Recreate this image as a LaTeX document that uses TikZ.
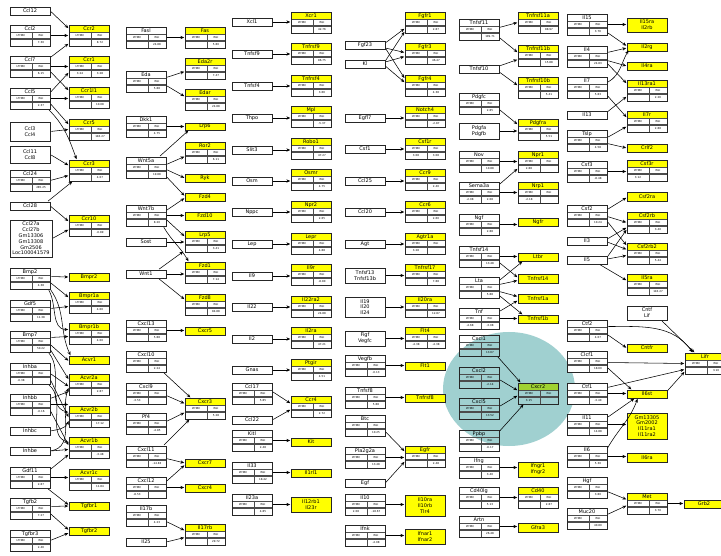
\documentclass[tikz,border=0pt]{standalone}
\usepackage{fontspec}
\setmainfont{DejaVu Sans}
\usetikzlibrary{arrows.meta}
\definecolor{yel}{RGB}{255,255,0}
\definecolor{rb}{RGB}{192,0,0}
\definecolor{bb}{RGB}{0,0,192}
\definecolor{gb}{RGB}{150,150,150}
\definecolor{teal0}{RGB}{160,208,208}
\definecolor{ygreen}{RGB}{160,210,50}
\def\tbody{white}
\newcommand\mytb[9]{%
 \path[fill=\tbody] (#2,#3) rectangle (#2+40,#3+21);
 \path[fill=#5] (#2,#3) rectangle (#2+40,#3+7);
 \path[fill=#6] (#2,#3+13) rectangle (#2+22,#3+14.6);
 \path[fill=#7] (#2+22,#3+13) rectangle (#2+40,#3+14.6);
 \draw[inl] (#2,#3+7) -- (#2+40,#3+7) (#2,#3+13) -- (#2+40,#3+13) (#2,#3+14.6) -- (#2+40,#3+14.6) (#2+22,#3+7) -- (#2+22,#3+21);
 \node[tt] at (#2+20,#3+3.7) {#4};
 \node[sm] at (#2+11,#3+10.2) {LTHBC};
 \node[sm] at (#2+31,#3+10.2) {RGI};
 \node[sm] at (#2+11,#3+17.9) {#8};
 \node[sm] at (#2+31,#3+17.9) {#9};
 \node[tbx] (#1) at (#2+20,#3+10.5) {};
}
\newcommand\mypb[7]{\node[pb,fill=#6,minimum width=#4pt,minimum height=#5pt] (#1) at (#2+#4/2,#3+#5/2) {#7};}
\newcommand\hz[2]{\draw[ar] (#1.east) -- (#1.east -| #2.west);}
\newcommand\ed[4]{\draw[ar] ([yshift=#2pt]#1.east) -- ([yshift=#4pt]#3.west);}
\tikzset{
 tbx/.style={draw=black!85, line width=0.55pt, minimum width=40pt, minimum height=21pt, inner sep=0pt},
 pb/.style={draw=black!85, line width=0.55pt, inner sep=0pt, align=center, font=\fontsize{5}{5.8}\selectfont},
 tt/.style={inner sep=0pt, font=\fontsize{5}{5.8}\selectfont},
 sm/.style={inner sep=0pt, font=\fontsize{2.7}{3}\selectfont},
 inl/.style={draw=black!70, line width=0.3pt},
 ar/.style={-{Stealth[length=3.8pt,width=3.2pt]}, line width=0.55pt, shorten <=1pt, shorten >=0.5pt},
}
\begin{document}
\begin{tikzpicture}[x=1pt,y=-1pt]
\useasboundingbox (0,0) rectangle (721,556);
\fill[white] (0,0) rectangle (721,556);
\fill[teal0] (509,389) ellipse [x radius=66, y radius=57];
% ---------- column A ----------
\mypb{ccl12}{10}{7}{40}{8}{white}{Ccl12}
\mytb{ccl2}{10}{25}{Ccl2}{white}{gb}{rb}{}{7.30}
\mytb{ccl7}{10}{56}{Ccl7}{white}{gb}{rb}{}{6.15}
\mytb{ccl5}{10}{88}{Ccl5}{white}{gb}{rb}{}{2.37}
\mypb{ccl3}{10}{122}{40}{19}{white}{Ccl3\\Ccl4}
\mypb{ccl11}{10}{146}{40}{17}{white}{Ccl11\\Ccl8}
\mytb{ccl24}{10}{170}{Ccl24}{white}{gb}{rb}{}{285.25}
\mypb{ccl28}{10}{202}{40}{8}{white}{Ccl28}
\mypb{ccl27}{10}{220}{42}{37}{white}{Ccl27a\\Ccl27b\\Gm13306\\Gm13308\\Gm2506\\Loc100041579}
\mytb{bmp2}{10}{268}{Bmp2}{white}{gb}{rb}{}{4.38}
\mytb{gdf5}{10}{300}{Gdf5}{white}{gb}{rb}{}{11.38}
\mytb{bmp7}{10}{331}{Bmp7}{white}{gb}{rb}{}{50.22}
\mytb{inhba}{10}{363}{Inhba}{white}{bb}{gb}{-0.38}{}
\mytb{inhbb}{10}{394}{Inhbb}{white}{gb}{bb}{}{-0.16}
\mypb{inhbc}{10}{427}{40}{8}{white}{Inhbc}
\mypb{inhbe}{10}{447}{40}{8}{white}{Inhbe}
\mytb{gdf11}{10}{467}{Gdf11}{white}{gb}{rb}{}{2.87}
\mytb{tgfb2}{10}{498}{Tgfb2}{white}{gb}{rb}{}{7.27}
\mytb{tgfbr3}{10}{530}{Tgfbr3}{white}{gb}{rb}{}{2.46}
% ---------- column B ----------
\mytb{ccr2}{69}{25}{Ccr2}{yel}{gb}{rb}{}{8.72}
\mytb{ccr1}{69}{56}{Ccr1}{yel}{rb}{rb}{3.24}{3.28}
\mytb{ccr1l1}{69}{87}{Ccr1l1}{yel}{gb}{rb}{}{10.08}
\mytb{ccr5}{69}{119}{Ccr5}{yel}{gb}{rb}{}{146.27}
\mytb{ccr3}{69}{160}{Ccr3}{yel}{gb}{rb}{}{4.07}
\mytb{ccr10}{69}{215}{Ccr10}{yel}{gb}{bb}{}{-0.89}
\mypb{bmpr2}{69}{273}{40}{8}{yel}{Bmpr2}
\mytb{bmpr1a}{69}{292}{Bmpr1a}{yel}{gb}{rb}{}{4.00}
\mytb{bmpr1b}{69}{323}{Bmpr1b}{yel}{gb}{rb}{}{4.00}
\mypb{acvr1}{69}{356}{40}{8}{yel}{Acvr1}
\mytb{acvr2a}{69}{374}{Acvr2a}{yel}{gb}{rb}{}{2.87}
\mytb{acvr2b}{69}{406}{Acvr2b}{yel}{gb}{rb}{}{17.12}
\mytb{acvr1b}{69}{437}{Acvr1b}{yel}{gb}{bb}{}{-3.48}
\mytb{acvr1c}{69}{469}{Acvr1c}{yel}{gb}{rb}{}{11.84}
\mypb{tgfbr1}{69}{502}{40}{8}{yel}{Tgfbr1}
\mypb{tgfbr2}{69}{527}{40}{8}{yel}{Tgfbr2}
% ---------- column C ----------
\mytb{fasl}{126}{27}{Fasl}{white}{gb}{rb}{}{24.88}
\mytb{eda}{126}{71}{Eda}{white}{gb}{rb}{}{5.88}
\mytb{dkk1}{126}{116}{Dkk1}{white}{gb}{rb}{}{4.75}
\mytb{wnt5a}{126}{157}{Wnt5a}{white}{gb}{rb}{}{19.88}
\mytb{wnt7b}{126}{205}{Wnt7b}{white}{gb}{rb}{}{8.20}
\mypb{sost}{126}{238}{40}{8}{white}{Sost}
\mypb{wnt1}{126}{270}{40}{8}{white}{Wnt1}
\mytb{cxcl13}{126}{320}{Cxcl13}{white}{gb}{rb}{}{5.88}
\mytb{cxcl10}{126}{351}{Cxcl10}{white}{gb}{rb}{}{2.24}
\mytb{cxcl9}{126}{383}{Cxcl9}{white}{bb}{gb}{-3.53}{}
\mytb{pf4}{126}{413}{Pf4}{white}{gb}{bb}{}{-4.85}
\mytb{cxcl11}{126}{446}{Cxcl11}{white}{gb}{bb}{}{-14.83}
\mytb{cxcl12}{126}{477}{Cxcl12}{white}{bb}{gb}{-8.53}{}
\mytb{il17b}{126}{505}{Il17b}{white}{gb}{rb}{}{4.23}
\mypb{il25}{126}{538}{40}{8}{white}{Il25}
% ---------- column D ----------
\mytb{fas}{185}{27}{Fas}{yel}{gb}{rb}{}{5.80}
\mytb{eda2r}{185}{58}{Eda2r}{yel}{gb}{rb}{}{7.47}
\mytb{edar}{185}{89}{Edar}{yel}{gb}{rb}{}{24.88}
\mypb{lrp6}{185}{123}{40}{7}{yel}{Lrp6}
\mytb{ror2}{185}{142}{Ror2}{yel}{gb}{rb}{}{6.11}
\mypb{ryk}{185}{174}{40}{8}{yel}{Ryk}
\mypb{fzd4}{185}{193}{40}{8}{yel}{Fzd4}
\mypb{fzd10}{185}{212}{40}{8}{yel}{Fzd10}
\mytb{lrp5}{185}{231}{Lrp5}{yel}{gb}{rb}{}{3.41}
\mytb{fzd1}{185}{262}{Fzd1}{yel}{gb}{rb}{}{7.14}
\mytb{fzd8}{185}{294}{Fzd8}{yel}{gb}{rb}{}{84.88}
\mypb{cxcr5}{185}{327}{40}{8}{yel}{Cxcr5}
\mytb{cxcr3}{185}{398}{Cxcr3}{yel}{gb}{rb}{}{5.28}
\mypb{cxcr7}{185}{459}{40}{8}{yel}{Cxcr7}
\mypb{cxcr4}{185}{484}{40}{8}{yel}{Cxcr4}
\mytb{il17rb}{185}{524}{Il17rb}{yel}{gb}{rb}{}{29.72}
% ---------- column E ----------
\mypb{xcl1}{232}{18}{40}{8}{white}{Xcl1}
\mypb{tnfsf9}{232}{50}{40}{8}{white}{Tnfsf9}
\mypb{tnfsf4}{232}{82}{40}{8}{white}{Tnfsf4}
\mypb{thpo}{232}{114}{40}{8}{white}{Thpo}
\mypb{slit3}{232}{146}{40}{8}{white}{Slit3}
\mypb{osm}{232}{177}{40}{8}{white}{Osm}
\mypb{nppc}{232}{208}{40}{8}{white}{Nppc}
\mypb{lep}{232}{240}{40}{8}{white}{Lep}
\mypb{il9}{232}{272}{40}{8}{white}{Il9}
\mypb{il22}{232}{303}{40}{8}{white}{Il22}
\mypb{il2}{232}{335}{40}{8}{white}{Il2}
\mypb{gnas}{232}{366}{40}{8}{white}{Gnas}
\mytb{ccl17}{232}{383}{Ccl17}{white}{gb}{rb}{}{5.85}
\mypb{ccl22}{232}{416}{40}{8}{white}{Ccl22}
\mytb{kitl}{232}{430}{Kitl}{white}{gb}{rb}{}{2.48}
\mytb{il33}{232}{462}{Il33}{white}{gb}{rb}{}{18.42}
\mytb{il23a}{232}{494}{Il23a}{white}{gb}{rb}{}{4.85}
% ---------- column F ----------
\mytb{xcr1}{291}{12}{Xcr1}{yel}{gb}{rb}{}{42.76}
\mytb{tnfrsf9}{291}{43}{Tnfrsf9}{yel}{gb}{rb}{}{86.75}
\mytb{tnfrsf4}{291}{75}{Tnfrsf4}{yel}{gb}{rb}{}{3.66}
\mytb{mpl}{291}{106}{Mpl}{yel}{gb}{bb}{}{-5.37}
\mytb{robo1}{291}{138}{Robo1}{yel}{gb}{rb}{}{47.27}
\mytb{osmr}{291}{169}{Osmr}{yel}{gb}{rb}{}{4.75}
\mytb{npr2}{291}{201}{Npr2}{yel}{gb}{rb}{}{2.65}
\mytb{lepr}{291}{233}{Lepr}{yel}{gb}{rb}{}{4.88}
\mytb{il9r}{291}{264}{Il9r}{yel}{gb}{bb}{}{-8.80}
\mytb{il22ra2}{291}{296}{Il22ra2}{yel}{gb}{rb}{}{24.88}
\mytb{il2ra}{291}{327}{Il2ra}{yel}{gb}{rb}{}{47.21}
\mytb{ptgir}{291}{359}{Ptgir}{yel}{gb}{rb}{}{4.51}
\mytb{ccr4}{291}{396}{Ccr4}{yel}{gb}{rb}{}{2.72}
\mypb{kit}{291}{438}{40}{8}{yel}{Kit}
\mypb{il1rl1}{291}{469}{40}{8}{yel}{Il1rl1}
\mypb{il12rb1}{291}{497}{40}{15}{yel}{Il12rb1\\Il23r}
% ---------- column G ----------
\mypb{fgf23}{345}{41}{40}{8}{white}{Fgf23}
\mypb{kl}{345}{60}{40}{8}{white}{Kl}
\mypb{egfl7}{345}{114}{40}{8}{white}{Egfl7}
\mypb{csf1}{345}{145}{40}{8}{white}{Csf1}
\mypb{ccl25}{345}{177}{40}{8}{white}{Ccl25}
\mypb{ccl20}{345}{208}{40}{8}{white}{Ccl20}
\mypb{agt}{345}{240}{40}{8}{white}{Agt}
\mypb{tnfsf13}{345}{268}{40}{15}{white}{Tnfsf13\\Tnfsf13b}
\mypb{il19}{345}{297}{40}{20}{white}{Il19\\Il20\\Il24}
\mypb{figf}{345}{331}{40}{15}{white}{Figf\\Vegfc}
\mytb{vegfb}{345}{355}{Vegfb}{white}{gb}{bb}{}{-0.13}
\mytb{tnfsf8}{345}{387}{Tnfsf8}{white}{gb}{rb}{}{5.88}
\mytb{btc}{345}{415}{Btc}{white}{gb}{rb}{}{10.25}
\mytb{pla2g2a}{345}{447}{Pla2g2a}{white}{gb}{rb}{}{13.48}
\mypb{egf}{345}{479}{40}{8}{white}{Egf}
\mytb{il10}{345}{494}{Il10}{white}{rb}{bb}{2.08}{-18.67}
\mytb{ifnk}{345}{525}{Ifnk}{white}{gb}{bb}{}{-4.08}
% ---------- column H ----------
\mytb{fgfr1}{405}{12}{Fgfr1}{yel}{gb}{rb}{}{2.87}
\mytb{fgfr3}{405}{43}{Fgfr3}{yel}{gb}{rb}{}{46.47}
\mytb{fgfr4}{405}{75}{Fgfr4}{yel}{gb}{rb}{}{4.38}
\mytb{notch4}{405}{106}{Notch4}{yel}{gb}{bb}{}{-2.87}
\mytb{csf1r}{405}{138}{Csf1r}{yel}{rb}{rb}{3.08}{3.08}
\mytb{ccr9}{405}{169}{Ccr9}{yel}{gb}{rb}{}{2.40}
\mytb{ccr6}{405}{201}{Ccr6}{yel}{gb}{rb}{}{2.60}
\mytb{agtr1a}{405}{233}{Agtr1a}{yel}{rb}{gb}{3.28}{}
\mytb{tnfrsf17}{405}{264}{Tnfrsf17}{yel}{gb}{rb}{}{7.88}
\mytb{il20ra}{405}{296}{Il20ra}{yel}{gb}{rb}{}{12.87}
\mytb{flt4}{405}{327}{Flt4}{yel}{bb}{bb}{-4.38}{-4.38}
\mypb{flt1}{405}{362}{40}{8}{yel}{Flt1}
\mypb{tnfrsf8}{405}{394}{40}{8}{yel}{Tnfrsf8}
\mytb{egfr}{405}{446}{Egfr}{yel}{gb}{rb}{}{2.48}
\mypb{il10ra}{405}{495}{40}{21}{yel}{Il10ra\\Il10rb\\Tlr4}
\mypb{ifnar1}{405}{529}{40}{15}{yel}{Ifnar1\\Ifnar2}
% ---------- column I ----------
\mytb{tnfsf11}{459}{19}{Tnfsf11}{white}{gb}{rb}{}{109.71}
\mypb{tnfsf10}{459}{65}{40}{8}{white}{Tnfsf10}
\mytb{pdgfc}{459}{93}{Pdgfc}{white}{gb}{rb}{}{2.85}
\mypb{pdgfa}{459}{123}{40}{16}{white}{Pdgfa\\Pdgfb}
\mytb{nov}{459}{151}{Nov}{white}{gb}{rb}{}{10.88}
\mytb{sema3a}{459}{182}{Sema3a}{white}{bb}{rb}{-2.08}{2.08}
\mytb{ngf}{459}{214}{Ngf}{white}{gb}{rb}{}{2.88}
\mytb{tnfsf14}{459}{246}{Tnfsf14}{white}{gb}{rb}{}{13.48}
\mytb{lta}{459}{277}{Lta}{white}{gb}{rb}{}{5.88}
\mytb{tnf}{459}{308}{Tnf}{white}{bb}{bb}{-4.68}{-3.08}
\def\tbody{none}
\mytb{cxcl1}{459}{335}{Cxcl1}{none}{gb}{rb}{}{13.67}
\mytb{cxcl2}{459}{367}{Cxcl2}{none}{gb}{bb}{}{-2.14}
\mytb{cxcl5}{459}{398}{Cxcl5}{none}{gb}{rb}{}{13.52}
\mytb{ppbp}{459}{430}{Ppbp}{none}{gb}{bb}{}{-6.17}
\mytb{cxcr2}{518}{383}{Cxcr2}{ygreen}{rb}{gb}{3.15}{}
\def\tbody{white}
\mytb{ifng}{459}{457}{Ifng}{white}{gb}{rb}{}{3.40}
\mytb{cd40lg}{459}{487}{Cd40lg}{white}{gb}{rb}{}{5.13}
\mytb{artn}{459}{516}{Artn}{white}{gb}{rb}{}{26.48}
% ---------- column J ----------
\mytb{tnfrsf11a}{518}{12}{Tnfrsf11a}{yel}{gb}{rb}{}{88.97}
\mytb{tnfrsf11b}{518}{45}{Tnfrsf11b}{yel}{gb}{rb}{}{15.88}
\mytb{tnfrsf10b}{518}{77}{Tnfrsf10b}{yel}{gb}{rb}{}{5.41}
\mytb{pdgfra}{518}{119}{Pdgfra}{yel}{gb}{rb}{}{5.51}
\mytb{npr1}{518}{151}{Npr1}{yel}{rb}{gb}{2.88}{}
\mytb{nrp1}{518}{182}{Nrp1}{yel}{bb}{gb}{-2.18}{}
\mypb{ngfr}{518}{218}{40}{8}{yel}{Ngfr}
\mypb{ltbr}{518}{253}{40}{8}{yel}{Ltbr}
\mypb{tnfrsf14}{518}{274}{40}{9}{yel}{Tnfrsf14}
\mypb{tnfrsf1a}{518}{294}{40}{9}{yel}{Tnfrsf1a}
\mypb{tnfrsf1b}{518}{315}{40}{8}{yel}{Tnfrsf1b}
\mypb{ifngr1}{518}{462}{40}{15}{yel}{Ifngr1\\Ifngr2}
\mytb{cd40}{518}{487}{Cd40}{yel}{gb}{rb}{}{2.87}
\mypb{gfra3}{518}{523}{40}{9}{yel}{Gfra3}
% ---------- column K ----------
\mytb{il15}{567}{14}{Il15}{white}{gb}{rb}{}{3.76}
\mytb{il4}{567}{46}{Il4}{white}{gb}{rb}{}{24.83}
\mytb{il7}{567}{77}{Il7}{white}{gb}{rb}{}{5.83}
\mypb{il13}{567}{111}{40}{8}{white}{Il13}
\mytb{tslp}{567}{130}{Tslp}{white}{gb}{rb}{}{4.58}
\mytb{csf3}{567}{161}{Csf3}{white}{gb}{bb}{}{-8.48}
\mytb{csf2}{567}{205}{Csf2}{white}{gb}{rb}{}{10.24}
\mypb{il3}{567}{237}{40}{8}{white}{Il3}
\mypb{il5}{567}{256}{40}{8}{white}{Il5}
\mytb{ctf2}{567}{320}{Ctf2}{white}{gb}{rb}{}{4.07}
\mytb{clcf1}{567}{351}{Clcf1}{white}{gb}{rb}{}{18.60}
\mytb{ctf1}{567}{383}{Ctf1}{white}{gb}{bb}{}{-3.40}
\mytb{il11}{567}{414}{Il11}{white}{gb}{rb}{}{14.88}
\mytb{il6}{567}{446}{Il6}{white}{gb}{rb}{}{5.30}
\mytb{hgf}{567}{477}{Hgf}{white}{gb}{rb}{}{3.80}
\mytb{muc20}{567}{508}{Muc20}{white}{gb}{rb}{}{40.80}
% ---------- column L ----------
\mypb{il15ra}{627}{18}{40}{14}{yel}{Il15ra\\Il2rb}
\mypb{il2rg}{627}{43}{40}{8}{yel}{Il2rg}
\mypb{il4ra}{627}{62}{40}{8}{yel}{Il4ra}
\mytb{il13ra1}{627}{80}{Il13ra1}{yel}{gb}{rb}{}{2.26}
\mytb{il7r}{627}{111}{Il7r}{yel}{gb}{rb}{}{2.88}
\mypb{crlf2}{627}{144}{40}{8}{yel}{Crlf2}
\mytb{csf3r}{627}{160}{Csf3r}{yel}{rb}{gb}{3.12}{}
\mypb{csf2ra}{627}{192}{40}{9}{yel}{Csf2ra}
\mytb{csf2rb}{627}{212}{Csf2rb}{yel}{gb}{rb}{}{3.40}
\mytb{csf2rb2}{627}{243}{Csf2rb2}{yel}{gb}{rb}{}{5.44}
\mytb{il5ra}{627}{274}{Il5ra}{yel}{gb}{rb}{}{116.27}
\mypb{cntf}{627}{306}{40}{14}{white}{Cntf\\Lif}
\mypb{cntfr}{627}{344}{40}{8}{yel}{Cntfr}
\mypb{il6st}{627}{390}{40}{8}{yel}{Il6st}
\mypb{gm13305}{627}{413}{40}{26}{yel}{Gm13305\\Gm2002\\Il11ra1\\Il11ra2}
\mypb{il6ra}{627}{453}{40}{9}{yel}{Il6ra}
\mytb{met}{627}{493}{Met}{yel}{gb}{rb}{}{3.70}
% ---------- column M ----------
\mytb{lifr}{685}{353}{Lifr}{yel}{gb}{rb}{}{3.10}
\mypb{grb2}{684}{500}{40}{8}{yel}{Grb2}
% ================= connectors =================
% A -> B
\ed{ccl12}{0}{ccr2}{7}
\hz{ccl2}{ccr2}
\ed{ccl7}{9}{ccr2}{-8}
\hz{ccl7}{ccr1}
\ed{ccl7}{-5}{ccr1l1}{7}
\ed{ccl5}{6}{ccr1}{-6}
\hz{ccl5}{ccr1l1}
\ed{ccl5}{-5}{ccr5}{5}
\draw[ar] ([xshift=-2pt]ccl5.south east) to[out=-45,in=110] ([xshift=8pt]ccr3.north west);
\ed{ccl3}{0}{ccr5}{0}
\ed{ccl11}{0}{ccr3}{5}
\ed{ccl24}{0}{ccr3}{-5}
\draw[ar] ([xshift=-3pt]ccl28.north east) -- ([xshift=4pt]ccr3.south west);
\ed{ccl28}{0}{ccr10}{4}
\ed{ccl27}{0}{ccr10}{-4}
\ed{bmp2}{2}{bmpr2}{0}
\ed{bmp2}{-4}{bmpr1a}{5}
\draw[ar] ([xshift=-2pt]bmp2.south east) to[out=-60,in=180] ([yshift=4pt]bmpr1b.west);
\draw[ar] (bmp2.south east) to[out=-55,in=115] ([xshift=2pt]acvr1.north west);
\ed{gdf5}{2}{bmpr1a}{-4}
\ed{bmp7}{4}{bmpr1b}{-3}
\ed{bmp7}{-3}{acvr1}{-1}
\ed{bmp7}{-8}{acvr2a}{5}
\draw[ar] ([xshift=-2pt]bmp7.south east) to[out=-50,in=165] ([yshift=4pt]acvr2b.west);
\ed{inhba}{0}{acvr2a}{-2}
\ed{inhba}{-6}{acvr2b}{-1}
\draw[ar] ([xshift=-2pt]inhba.south east) to[out=-40,in=160] ([yshift=5pt]acvr1b.west);
\ed{inhbb}{6}{acvr2a}{-7}
\hz{inhbb}{acvr2b}
\ed{inhbb}{-6}{acvr1b}{2}
\draw[ar] (inhbc.east) to[out=10,in=-110] ([yshift=-4pt]acvr2b.west);
\draw[ar] (inhbe.east) to[out=10,in=-110] ([yshift=-3pt]acvr2a.west);
\ed{inhbe}{0}{acvr1b}{-2}
\ed{gdf11}{8}{acvr1b}{-7}
\hz{gdf11}{acvr1c}
\draw[ar] ([xshift=-3pt]gdf11.south east) -- ([yshift=1pt]tgfbr1.west);
\ed{tgfb2}{2}{tgfbr1}{0}
\ed{tgfb2}{-5}{tgfbr2}{1}
\ed{tgfbr3}{0}{tgfbr2}{-2}
% C -> D
\hz{fasl}{fas}
\ed{eda}{4}{eda2r}{-3}
\ed{eda}{-4}{edar}{3}
\hz{dkk1}{lrp6}
\draw[ar] ([xshift=-7pt]wnt5a.north east) -- ([xshift=4pt]lrp6.south west);
\ed{wnt5a}{3}{ror2}{-4}
\ed{wnt5a}{-2}{ryk}{0}
\ed{wnt5a}{-9}{fzd4}{1}
\ed{wnt7b}{5}{fzd4}{-1}
\hz{wnt7b}{fzd10}
\ed{wnt7b}{-4}{lrp5}{5}
\draw[ar] ([xshift=-3pt]wnt7b.south east) to[out=-60,in=120] ([xshift=4pt]fzd1.north west);
\hz{sost}{lrp5}
\draw[ar] ([xshift=-8pt]wnt1.north east) -- ([xshift=-1pt,yshift=1pt]lrp5.south west);
\hz{wnt1}{fzd1}
\draw[ar] ([xshift=-8pt]wnt1.south east) -- ([yshift=5pt]fzd8.west);
\hz{cxcl13}{cxcr5}
\draw[ar] ([xshift=-3pt]cxcl10.south east) -- ([xshift=6pt]cxcr3.north west);
\ed{cxcl9}{-2}{cxcr3}{5}
\ed{pf4}{2}{cxcr3}{-4}
\draw[ar] ([xshift=-3pt]cxcl11.north east) -- ([xshift=5pt]cxcr3.south west);
\ed{cxcl11}{-2}{cxcr7}{0}
\ed{cxcl12}{6}{cxcr7}{-2}
\hz{cxcl12}{cxcr4}
\ed{il17b}{-6}{il17rb}{4}
\ed{il25}{0}{il17rb}{-3}
% E -> F
\hz{xcl1}{xcr1}
\hz{tnfsf9}{tnfrsf9}
\hz{tnfsf4}{tnfrsf4}
\hz{thpo}{mpl}
\hz{slit3}{robo1}
\hz{osm}{osmr}
\hz{nppc}{npr2}
\hz{lep}{lepr}
\hz{il9}{il9r}
\hz{il22}{il22ra2}
\hz{il2}{il2ra}
\hz{gnas}{ptgir}
\ed{ccl17}{2}{ccr4}{3}
\ed{ccl22}{0}{ccr4}{-3}
\hz{kitl}{kit}
\hz{il33}{il1rl1}
\hz{il23a}{il12rb1}
% G -> H
\ed{fgf23}{2}{fgfr1}{-6}
\ed{fgf23}{-3}{fgfr3}{1}
\ed{fgf23}{-3}{fgfr4}{7}
\ed{kl}{3}{fgfr1}{-9}
\ed{kl}{2}{fgfr3}{-3}
\ed{kl}{-2}{fgfr4}{3}
\hz{egfl7}{notch4}
\hz{csf1}{csf1r}
\hz{ccl25}{ccr9}
\hz{ccl20}{ccr6}
\hz{agt}{agtr1a}
\hz{tnfsf13}{tnfrsf17}
\hz{il19}{il20ra}
\hz{figf}{flt4}
\hz{vegfb}{flt1}
\hz{tnfsf8}{tnfrsf8}
\ed{btc}{-6}{egfr}{5}
\hz{pla2g2a}{egfr}
\ed{egf}{0}{egfr}{-5}
\hz{il10}{il10ra}
\hz{ifnk}{ifnar1}
% I -> J
\ed{tnfsf11}{2}{tnfrsf11a}{0}
\ed{tnfsf11}{-8}{tnfrsf11b}{3}
\ed{tnfsf10}{3}{tnfrsf11b}{-4}
\ed{tnfsf10}{-3}{tnfrsf10b}{2}
\ed{pdgfc}{-6}{pdgfra}{5}
\hz{pdgfa}{pdgfra}
\hz{nov}{npr1}
\ed{sema3a}{8}{npr1}{-7}
\hz{sema3a}{nrp1}
\hz{ngf}{ngfr}
\hz{tnfsf14}{ltbr}
\ed{tnfsf14}{-6}{tnfrsf14}{1}
\draw[ar] ([yshift=7pt]lta.east) -- ([xshift=5pt]ltbr.south west);
\ed{lta}{3}{tnfrsf14}{-2}
\ed{lta}{-4}{tnfrsf1a}{2}
\draw[ar] ([yshift=-8pt]lta.east) -- ([xshift=5pt]tnfrsf1b.north west);
\ed{tnf}{7}{tnfrsf1a}{-2}
\hz{tnf}{tnfrsf1b}
\draw[ar] ([xshift=-2pt]cxcl1.south east) -- ([xshift=3pt]cxcr2.north west);
\ed{cxcl2}{-2}{cxcr2}{3}
\ed{cxcl5}{2}{cxcr2}{-2}
\draw[ar] ([yshift=9pt]ppbp.east) -- ([xshift=6pt]cxcr2.south west);
\hz{ifng}{ifngr1}
\hz{cd40lg}{cd40}
\hz{artn}{gfra3}
% K -> L
\hz{il15}{il15ra}
\ed{il15}{-8}{il2rg}{1}
\ed{il4}{4}{il2rg}{-1}
\ed{il4}{-4}{il4ra}{0}
\ed{il4}{-7}{il13ra1}{7}
\draw[ar] ([yshift=5pt]il7.east) to[out=30,in=-120] ([xshift=2pt,yshift=-3pt]il2rg.west);
\ed{il7}{-8}{il7r}{4}
\ed{il13}{3}{il13ra1}{-6}
\ed{tslp}{3}{il7r}{-5}
\ed{tslp}{-3}{crlf2}{0}
\hz{csf3}{csf3r}
\ed{csf2}{6}{csf2ra}{-1}
\ed{csf2}{-1}{csf2rb}{0}
\ed{csf2}{-6}{csf2rb2}{8}
\ed{il3}{2}{csf2rb}{-5}
\ed{il3}{-1}{csf2rb2}{4}
\ed{il5}{3}{csf2rb}{-7}
\ed{il5}{1}{csf2rb2}{-2}
\draw[ar] ([xshift=-8pt]il5.south east) -- ([yshift=4pt]il5ra.west);
\draw[ar] ([xshift=-6pt]cntf.south east) -- ([xshift=10pt]lifr.north west);
\draw[ar] ([yshift=4pt]ctf2.east) to[out=0,in=125] ([xshift=8pt]lifr.north west);
\ed{ctf2}{-4}{cntfr}{0}
\ed{clcf1}{-1}{lifr}{0}
\draw[ar] ([yshift=-6pt]clcf1.east) -- ([xshift=5pt]il6st.north west);
\ed{ctf1}{6}{lifr}{-6}
\hz{ctf1}{il6st}
\draw[ar] ([yshift=7pt]il11.east) -- ([xshift=8pt]il6st.south west);
\hz{il11}{gm13305}
\draw[ar] ([yshift=8pt]il6.east) to[out=60,in=-110] ([xshift=11pt]il6st.south west);
\hz{il6}{il6ra}
\ed{il6st}{3}{lifr}{-8}
\ed{hgf}{-4}{met}{4}
\ed{muc20}{4}{met}{-2}
\hz{met}{grb2}
\end{tikzpicture}
\end{document}
